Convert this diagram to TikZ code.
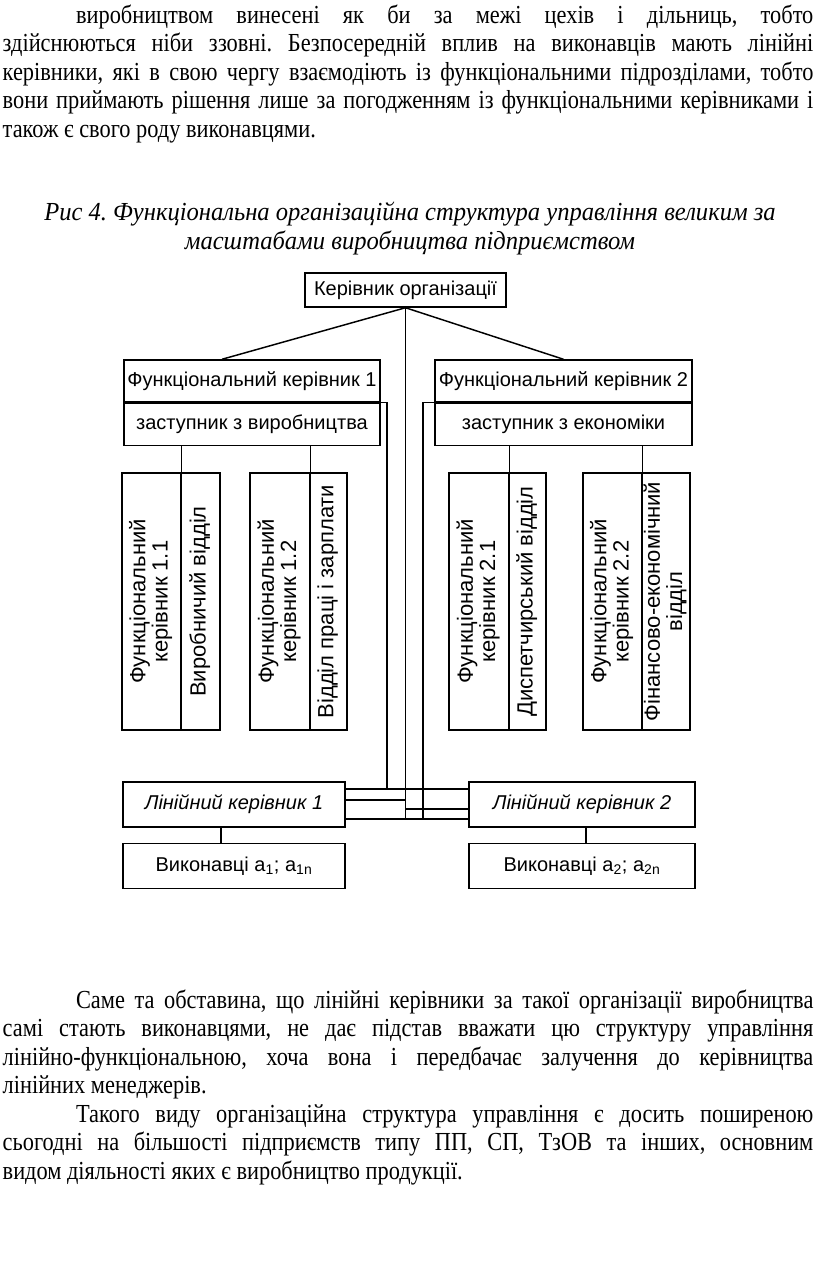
\documentclass[tikz,border=0pt]{standalone}
\usepackage{fontspec}
\usepackage{graphicx}
\setmainfont{Liberation Serif}[FakeStretch=0.86]
\newfontfamily\capfont{Liberation Serif}[FakeStretch=0.945]
\newfontfamily\boxfont{Liberation Sans}
\usetikzlibrary{positioning,calc}
\frenchspacing
\newcommand{\bodytext}{\fontsize{19.5}{21.4}\selectfont}
\newcommand{\vtext}[1]{\rotatebox{90}{\begin{tabular}{@{}c@{}}#1\end{tabular}}}
% pair of upright boxes: name, left x, middle x, right x, left text, right text
\newcommand{\vpair}[6]{%
  \node[vbox, sz={#3-#2}{257}] (f#1) at ({(#2+#3)/2},601.5) {\vtext{#5}};
  \node[vbox, sz={#4-#3}{257}] (d#1) at ({(#3+#4)/2},601.5) {\vtext{#6}};
}

\begin{document}
\begin{tikzpicture}[x=0.75pt,y=-0.75pt,line width=1.1pt,
  para/.style={anchor=base west, inner sep=0pt, text width=608pt,
               align=justify, font=\bodytext},
  box/.style={draw, rectangle, inner sep=0pt,
              font=\boxfont\fontsize{15}{17}\selectfont},
  vbox/.style={box, font=\boxfont\fontsize{16.5}{15.75}\selectfont},
  sz/.style 2 args={minimum width=(#1)*0.75pt, minimum height=(#2)*0.75pt}]

  \useasboundingbox (0,0) rectangle (816,1264);

  \node[para] (p1) at (2,23) {\hspace*{55pt}виробництвом винесені як би за межі цехів і дільниць, тобто\linebreak
    здійснюються ніби ззовні. Безпосередній вплив на виконавців мають лінійні\linebreak
    керівники, які в свою чергу взаємодіють із функціональними підрозділами, тобто\linebreak
    вони приймають рішення лише за погодженням із функціональними керівниками і\linebreak
    також є свого роду виконавцями.};

  \node[anchor=base, inner sep=0pt, align=center, font=\capfont\fontsize{19.5}{21.4}\selectfont\itshape] (caption) at (410,249)
    {Рис 4. Функціональна організаційна структура управління великим за\\
     масштабами виробництва підприємством};

  % top levels
  \node[box, sz={201}{34}] (kerivnyk) at (405.5,290) {Керівник організації};
  \node[box, sz={256}{42}] (fk1) at (252,381) {Функціональний керівник 1};
  \node[box, sz={256}{42}, below=0pt of fk1] (zast1) {заступник з виробництва};
  \node[box, sz={257}{42}] (fk2) at (563.5,381) {Функціональний керівник 2};
  \node[box, sz={257}{42}, below=0pt of fk2] (zast2) {заступник з економіки};

  \draw (kerivnyk.south) -- ([xshift=-22.5pt]fk1.north);
  \draw (kerivnyk.south) -- (fk2.north);

  % functional departments
  \vpair{11}{122}{181}{220}{Функціональний\\керівник 1.1}{Виробничий відділ}
  \vpair{12}{250}{310}{347}{Функціональний\\керівник 1.2}{Відділ праці і зарплати}
  \vpair{21}{449}{509}{546}{Функціональний\\керівник 2.1}{Диспетчирський відділ}
  \vpair{22}{583}{642}{690}{Функціональний\\керівник 2.2}{Фінансово-економічний\\відділ}

  \foreach \n in {11,12} \draw (zast1.south -| f\n.north east) -- (f\n.north east);
  \foreach \n in {21,22} \draw (zast2.south -| f\n.north east) -- (f\n.north east);

  % line managers
  \node[box, sz={222}{45}] (lk1) at (234,804.5) {\itshape Лінійний керівник 1};
  \node[box, sz={226}{45}] (lk2) at (582,804.5) {\itshape Лінійний керівник 2};
  \node[box, sz={222}{45}, below=11.25pt of lk1] (vyk1) {Виконавці a\textsubscript{1}; a\textsubscript{1n}};
  \node[box, sz={226}{45}, below=11.25pt of lk2] (vyk2) {Виконавці a\textsubscript{2}; a\textsubscript{2n}};

  \draw ([xshift=-9.75pt]lk1.south) -- ([xshift=-9.75pt]vyk1.north);
  \draw ([xshift=3pt]lk2.south) -- ([xshift=3pt]vyk2.north);

  \coordinate (y1) at (0,789);
  \coordinate (y2) at (0,800);
  \coordinate (y3) at (0,809);
  \coordinate (y4) at (0,819);
  \coordinate (bus1) at (387,789);
  \coordinate (bus3) at (423,819);

  \draw (zast1.north east) -| (bus1);
  \draw (zast2.north west) -| (bus3);
  \draw (kerivnyk.south) -- (kerivnyk.south |- y4);
  \draw (lk1.east |- y1) -- (lk2.west |- y1);
  \draw (lk1.east |- y2) -- (kerivnyk.south |- y2);
  \draw (kerivnyk.south |- y3) -- (lk2.west |- y3);
  \draw (lk1.east |- y4) -- (lk2.west |- y4);

  \node[para] (p2) at (2,1008) {\hspace*{55pt}Саме та обставина, що лінійні керівники за такої організації виробництва\linebreak
    самі стають виконавцями, не дає підстав вважати цю структуру управління\linebreak
    лінійно-функціональною, хоча вона і передбачає залучення до керівництва\linebreak
    лінійних менеджерів.\par
    \hspace*{55pt}Такого виду організаційна структура управління є досить поширеною\linebreak
    сьогодні на більшості підприємств типу ПП, СП, ТзОВ та інших, основним\linebreak
    видом діяльності яких є виробництво продукції.};

\end{tikzpicture}
\end{document}
